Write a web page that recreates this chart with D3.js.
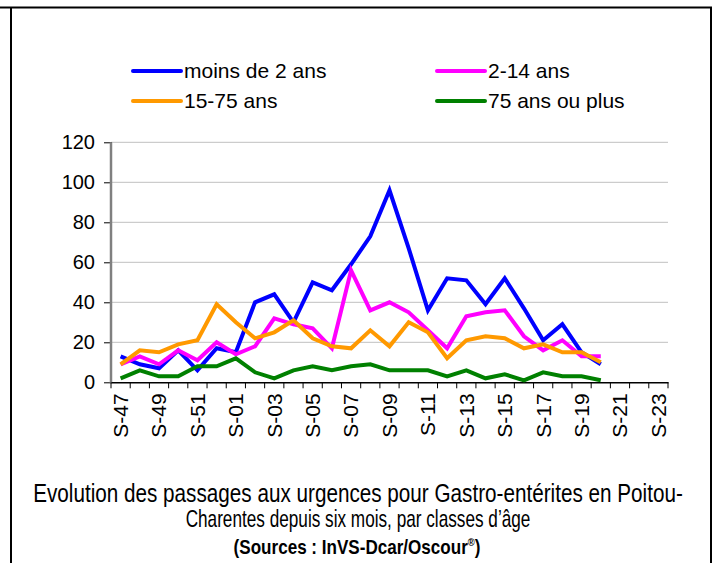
<!DOCTYPE html>
<html><head><meta charset="utf-8">
<script src="https://cdn.jsdelivr.net/npm/d3@7"></script>
<style>body{margin:0;background:#fff}svg{display:block}</style>
</head><body>
<svg id="c" width="715" height="563"></svg>
<script>
const weeks = ["S-47","S-48","S-49","S-50","S-51","S-52","S-01","S-02","S-03","S-04","S-05","S-06","S-07","S-08","S-09","S-10","S-11","S-12","S-13","S-14","S-15","S-16","S-17","S-18","S-19","S-20","S-21","S-22","S-23"];
const moins2 = [13,9,7,16,6,17,15,40,44,30,50,46,59,73,96,67,36,52,51,39,52,37,21,29,15,9];
const ans2_14 = [9,13,9,16,11,20,14,18,32,29,27,17,56,36,40,35,26,17,33,35,36,23,16,21,13,13];
const ans15_75 = [9,16,15,19,21,39,30,22,25,31,22,18,17,26,18,30,25,12,21,23,22,17,19,15,15,10];
const ans75 = [2,6,3,3,8,8,12,5,2,6,8,6,8,9,6,6,6,3,6,2,4,1,5,3,3,1];
const yTicks = [0,20,40,60,80,100,120];
const seriesNames = ["moins de 2 ans","2-14 ans","15-75 ans","75 ans ou plus"];
const seriesColors = ["#0000FF","#FF00FF","#FF9900","#008000"];
const seriesData = [moins2, ans2_14, ans15_75, ans75];

(function(){
const svg = d3.select("#c");
const pLeft = 111, pRight = 668, pTop = 142.3, pBottom = 382.3;
const x = d3.scaleBand().domain(weeks).range([pLeft, pRight]);
const y = d3.scaleLinear().domain([0,120]).range([pBottom, pTop]);
const af = "'Liberation Sans', Arial, Helvetica, sans-serif";

// frame
svg.append("line").attr("x1",0).attr("x2",712).attr("y1",7.5).attr("y2",7.5).attr("stroke","#000").attr("stroke-width",2);
svg.append("line").attr("x1",11).attr("x2",11).attr("y1",8).attr("y2",563).attr("stroke","#000").attr("stroke-width",2);
svg.append("line").attr("x1",711).attr("x2",711).attr("y1",7).attr("y2",563).attr("stroke","#000").attr("stroke-width",2);

// gridlines
svg.append("g").selectAll("line").data(yTicks.slice(1)).join("line")
  .attr("x1",pLeft).attr("x2",pRight).attr("y1",d=>y(d)).attr("y2",d=>y(d))
  .attr("stroke","#c0c0c0").attr("stroke-width",1);

// y axis
const ya = svg.append("g").attr("transform",`translate(${pLeft},0)`)
  .call(d3.axisLeft(y).tickValues(yTicks).tickSize(6).tickPadding(10));
ya.select(".domain").remove();
ya.selectAll(".tick line").attr("stroke","#000").attr("x2",-7).attr("x1",1);
ya.selectAll("text").attr("font-family",af).attr("font-size",20).attr("fill","#000");
svg.append("line").attr("x1",pLeft).attr("x2",pLeft).attr("y1",pTop).attr("y2",pBottom+1).attr("stroke","#808080").attr("stroke-width",2.5);

// x axis
const xa = svg.append("g").attr("transform",`translate(0,${pBottom})`)
  .call(d3.axisBottom(x).tickSizeOuter(0).tickFormat((d,i)=> i%2===0 ? d : ""));
xa.select(".domain").attr("stroke","#000").attr("stroke-width",1.5);
xa.selectAll(".tick line").remove();
xa.selectAll(".tick text")
  .attr("font-family",af).attr("font-size",21).attr("fill","#000")
  .attr("transform","rotate(-90)").attr("text-anchor","end").attr("dy","0.35em")
  .attr("x",-11).attr("y",0);
const bounds = weeks.map(w=>x(w)).concat([pRight]);
svg.append("g").selectAll("line").data(bounds).join("line")
  .attr("x1",d=>d).attr("x2",d=>d).attr("y1",pBottom).attr("y2",pBottom+6)
  .attr("stroke","#000").attr("stroke-width",1);

// lines
const line = d3.line().x((d,i)=>x(weeks[i])+x.bandwidth()/2).y(d=>y(d));
seriesData.forEach((s,k)=>{
  svg.append("path").datum(s).attr("d",line).attr("fill","none")
    .attr("stroke",seriesColors[k]).attr("stroke-width",4).attr("stroke-linejoin","miter");
});

// legend
const legPos = [[133,71],[437,71],[133,101],[437,101]];
seriesNames.forEach((n,k)=>{
  const [lx,ly] = legPos[k];
  svg.append("line").attr("x1",lx).attr("x2",lx+48).attr("y1",ly).attr("y2",ly)
    .attr("stroke",seriesColors[k]).attr("stroke-width",4).attr("stroke-linecap","round");
  svg.append("text").attr("x",lx+51).attr("y",ly).attr("dy","0.35em")
    .attr("font-family",af).attr("font-size",21).attr("fill","#000").text(n);
});

// title (condensed by horizontal scaling)
function condensed(cx, cy, width, build){
  const g = svg.append("g");
  const t = g.append("text").attr("x",0).attr("y",0).attr("text-anchor","middle").attr("fill","#000");
  build(t);
  const w = t.node().getBBox().width;
  g.attr("transform",`translate(${cx},${cy}) scale(${width/w},1)`);
}
condensed(358, 502, 650, t => t.attr("font-family",af).attr("font-size",25)
  .text("Evolution des passages aux urgences pour Gastro-entérites en Poitou-"));
condensed(358, 527, 345, t => t.attr("font-family",af).attr("font-size",24)
  .text("Charentes depuis six mois, par classes d’âge"));
condensed(357, 554, 247, t => {
  t.attr("font-family",af).attr("font-size",20).attr("font-weight","bold");
  t.append("tspan").text("(Sources : InVS-Dcar/Oscour");
  t.append("tspan").attr("font-size",11).attr("dy",-8).text("®");
  t.append("tspan").attr("dy",8).text(")");
});
})();
</script>
</body></html>
